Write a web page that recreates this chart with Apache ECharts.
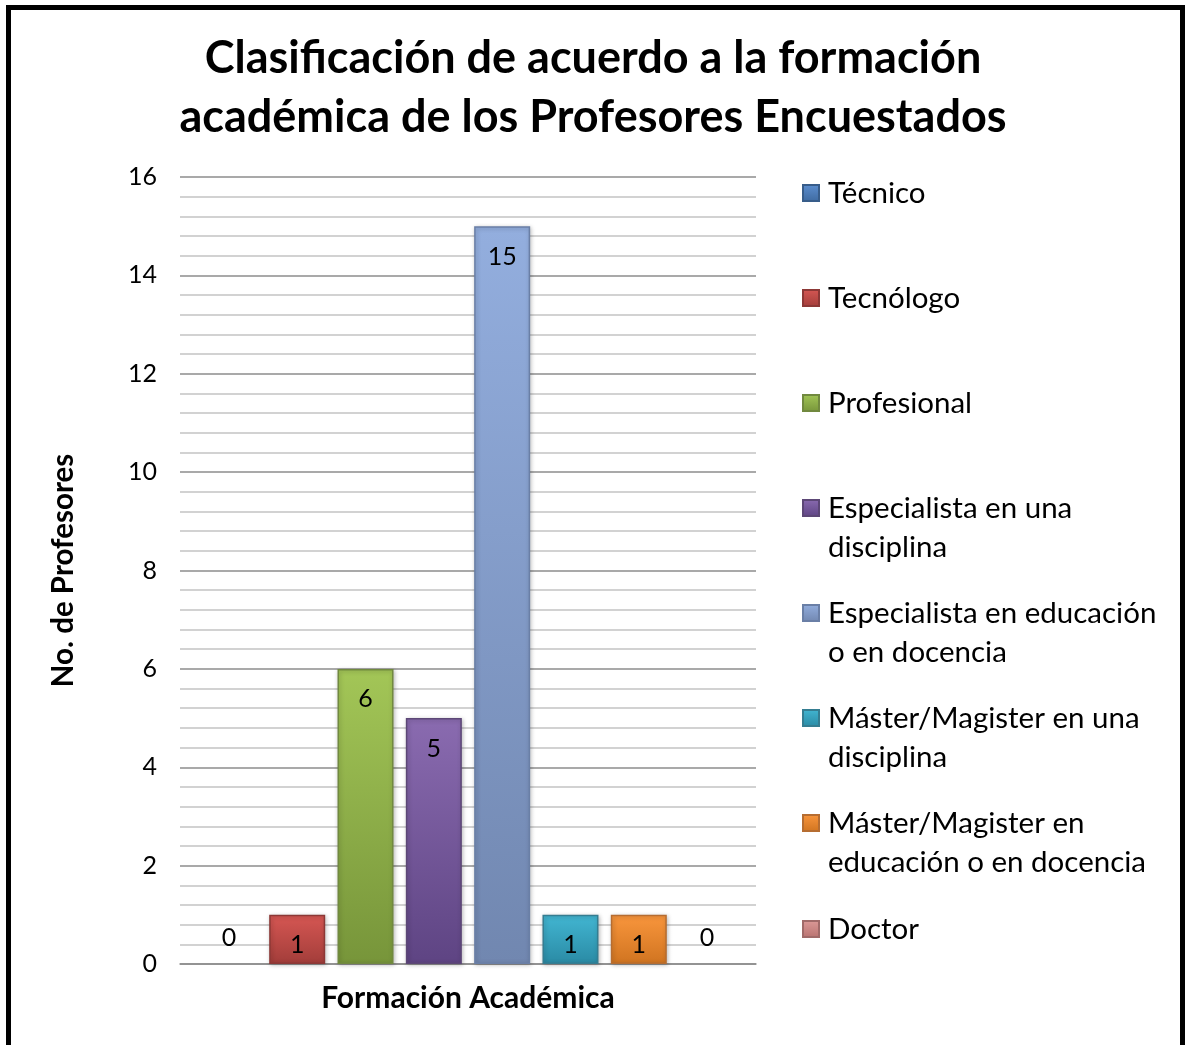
<!DOCTYPE html>
<html>
<head>
<meta charset="utf-8">
<title>Clasificación de acuerdo a la formación académica</title>
<script src="https://cdn.jsdelivr.net/npm/echarts@6/dist/echarts.min.js"></script>
<style>
  html, body { margin: 0; padding: 0; background: #fff; }
  #main { width: 1186px; height: 1045px; }
</style>
</head>
<body>
<div id="main"></div>
<script>
// valores
var categorias = ['Formación Académica'];
var series = [
  'Técnico',
  'Tecnólogo',
  'Profesional',
  'Especialista en una\ndisciplina',
  'Especialista en educación\no en docencia',
  'Máster/Magister en una\ndisciplina',
  'Máster/Magister en\neducación o en docencia',
  'Doctor'
];
var valores = [0, 1, 6, 5, 15, 1, 1, 0];
var ticksY = [0, 2, 4, 6, 8, 10, 12, 14, 16];

// colores tipo Office 2007 (arriba, abajo, borde)
var colores = [
  ['#5d8fd0', '#3e6aa0', '#385d8a'],
  ['#d65753', '#a23d3a', '#8c3836'],
  ['#a3c657', '#77953a', '#71893f'],
  ['#8a6bb0', '#5e4483', '#5c4776'],
  ['#93aede', '#7187b0', '#6a7fa6'],
  ['#42b6d2', '#2a8aa4', '#357d91'],
  ['#f9963d', '#d07420', '#b66d31'],
  ['#dc9a98', '#b87270', '#a06a69']
];
var legendY = [193, 298, 403, 508, 613, 718, 823, 929];

var fuente = 'Lato, "Open Sans", sans-serif';
var chart = echarts.init(document.getElementById('main'));

// una leyenda por serie; el texto se rellena con lineas vacias para que
// todas midan 3 lineas y el icono quede en la primera linea
var legends = series.map(function (name, i) {
  var dosLineas = name.indexOf('\n') >= 0;
  return {
    data: [name],
    orient: 'vertical',
    left: 802,
    top: legendY[i] - 58.5,
    padding: 0,
    itemWidth: 16,
    itemHeight: 16,
    icon: 'rect',
    selectedMode: false,
    formatter: function (n) {
      return dosLineas ? '\n' + n : '\n' + n + '\n';
    },
    textStyle: {
      fontFamily: fuente,
      fontSize: 29.5,
      lineHeight: 39,
      color: '#000',
      padding: [0, 0, 0, 4]
    }
  };
});

var seriesOpt = series.map(function (name, i) {
  var c = colores[i];
  return {
    name: name,
    type: 'bar',
    barWidth: 56,
    barGap: '22%',
    itemStyle: {
      color: new echarts.graphic.LinearGradient(0, 0, 0, 1, [
        { offset: 0, color: c[0] },
        { offset: 1, color: c[1] }
      ]),
      borderColor: c[2],
      borderWidth: 1.5,
      shadowColor: 'rgba(0,0,0,0.25)',
      shadowBlur: 4,
      shadowOffsetX: 1,
      shadowOffsetY: 1
    },
    label: {
      show: true,
      position: 'insideTop',
      distance: 18,
      fontFamily: fuente,
      fontSize: 25,
      color: '#000'
    },
    data: [valores[i]].map(function (v) {
      return v === 0
        ? {
            value: v,
            label: { position: 'top', distance: 14 },
            itemStyle: { color: 'transparent', borderWidth: 0, shadowBlur: 0, shadowOffsetX: 0, shadowOffsetY: 0 }
          }
        : { value: v };
    })
  };
});

chart.setOption({
  backgroundColor: '#fff',
  animation: false,
  title: {
    text: 'Clasificación de acuerdo a la formación\nacadémica de los Profesores Encuestados',
    left: 'center',
    top: 24,
    textStyle: {
      fontFamily: fuente,
      fontSize: 45,
      fontWeight: 'bold',
      lineHeight: 59,
      color: '#000'
    }
  },
  legend: legends,
  grid: { left: 180, right: 430, top: 177, bottom: 81, containLabel: false },
  xAxis: {
    type: 'category',
    data: categorias,
    name: categorias[0],
    nameLocation: 'middle',
    nameGap: 19,
    nameTextStyle: { fontFamily: fuente, fontSize: 30, fontWeight: 'bold', color: '#000' },
    axisLine: { show: true, lineStyle: { color: '#8c8c8c', width: 1.5 } },
    axisTick: { show: false },
    axisLabel: { show: false }
  },
  yAxis: {
    type: 'value',
    min: ticksY[0],
    max: ticksY[ticksY.length - 1],
    interval: 2,
    name: 'No. de Profesores',
    nameLocation: 'middle',
    nameGap: 102,
    nameTextStyle: { fontFamily: fuente, fontSize: 29.5, fontWeight: 'bold', color: '#000' },
    axisLine: { show: false },
    axisTick: { show: false },
    axisLabel: { fontFamily: fuente, fontSize: 25, color: '#000', margin: 23 },
    splitLine: { lineStyle: { color: '#8c8c8c', width: 1.5 } },
    minorTick: { show: false, splitNumber: 5 },
    minorSplitLine: { show: true, lineStyle: { color: '#c4c4c4', width: 1.5 } }
  },
  graphic: [{
    type: 'rect',
    shape: { x: 8.5, y: 7.5, width: 1174, height: 1100 },
    style: { fill: 'none', stroke: '#000', lineWidth: 5 },
    silent: true,
    z: 100
  }],
  series: seriesOpt
});
</script>
</body>
</html>
